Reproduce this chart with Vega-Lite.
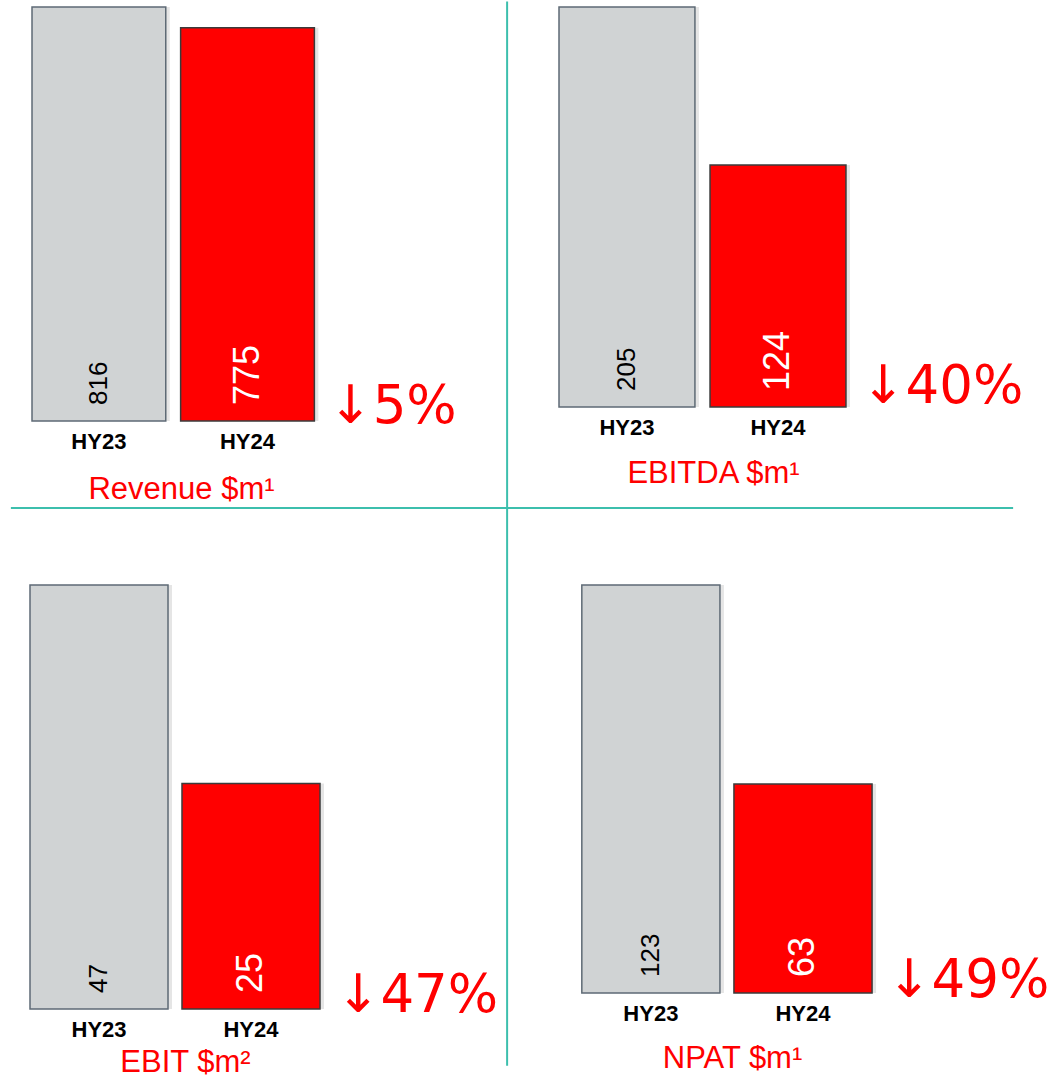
{
  "$schema": "https://vega.github.io/schema/vega-lite/v6.json",
  "padding": {"left": 9, "top": 0, "right": 5, "bottom": 5},
  "background": "white",
  "bounds": "flush",
  "columns": 2,
  "spacing": {"row": 164, "column": 87},
  "config": {
    "view": {"stroke": null},
    "font": "Liberation Sans",
    "axisX": {
      "labelFont": "Liberation Sans", "labelFontWeight": "bold", "labelFontSize": 22, "labelColor": "#000000",
      "labelAngle": 0, "ticks": false, "domain": false, "labelPadding": 10,
      "titleFont": "Liberation Sans", "titleFontWeight": "normal", "titleFontSize": 31, "titleColor": "#FF0000"
    }
  },
  "datasets": {
    "fin": [
      {"metric": "Revenue", "period": "HY23", "value": 816},
      {"metric": "Revenue", "period": "HY24", "value": 775},
      {"metric": "EBITDA", "period": "HY23", "value": 205},
      {"metric": "EBITDA", "period": "HY24", "value": 124},
      {"metric": "EBIT", "period": "HY23", "value": 47},
      {"metric": "EBIT", "period": "HY24", "value": 25},
      {"metric": "NPAT", "period": "HY23", "value": 123},
      {"metric": "NPAT", "period": "HY24", "value": 63}
    ],
    "changes": [
      {"metric": "Revenue", "period": "change", "change": "↓5%"},
      {"metric": "EBITDA", "period": "change", "change": "↓40%"},
      {"metric": "EBIT", "period": "change", "change": "↓47%"},
      {"metric": "NPAT", "period": "change", "change": "↓49%"}
    ]
  },
  "concat": [
    {
      "width": 435, "height": 414,
      "layer": [
        {
          "data": {"name": "fin"},
          "transform": [{"filter": "datum.metric === 'Revenue'"}],
          "mark": {"type": "bar", "fill": "#000000", "fillOpacity": 0.1, "xOffset": 4},
          "encoding": {
            "x": {"field": "period", "type": "nominal", "title": "Revenue  $m¹",
              "scale": {"domain": ["HY23", "HY24", "change"], "paddingInner": 0.1, "paddingOuter": 0.0135},
              "axis": {"labelExpr": "datum.value === 'change' ? '' : datum.value", "titleX": 151, "titlePadding": 22}},
            "y": {"field": "value", "type": "quantitative", "scale": {"domain": [0, 816], "nice": false}, "axis": null}
          }
        },
        {
          "data": {"name": "fin"},
          "transform": [{"filter": "datum.metric === 'Revenue'"}],
          "mark": {"type": "bar", "strokeWidth": 1.5},
          "encoding": {
            "x": {"field": "period", "type": "nominal"},
            "y": {"field": "value", "type": "quantitative"},
            "fill": {"condition": {"test": "datum.period === 'HY24'", "value": "#FF0000"}, "value": "#D0D3D4"},
            "stroke": {"condition": {"test": "datum.period === 'HY24'", "value": "#3B3B3B"}, "value": "#5E6A75"}
          }
        },
        {
          "data": {"name": "fin"},
          "transform": [{"filter": "datum.metric === 'Revenue'"}],
          "mark": {"type": "text", "angle": 270, "align": "left", "baseline": "middle", "dx": 16, "font": "Liberation Sans"},
          "encoding": {
            "x": {"field": "period", "type": "nominal"},
            "y": {"datum": 0, "type": "quantitative"},
            "text": {"field": "value", "type": "quantitative"},
            "color": {"condition": {"test": "datum.period === 'HY24'", "value": "#FFFFFF"}, "value": "#000000"},
            "size": {"condition": {"test": "datum.period === 'HY24'", "value": 36}, "value": 26}
          }
        },
        {
          "data": {"name": "changes"},
          "transform": [{"filter": "datum.metric === 'Revenue'"}],
          "mark": {"type": "text", "align": "left", "baseline": "alphabetic", "font": "DejaVu Sans", "fontSize": 53, "color": "#FF0000", "dx": -1, "dy": 2},
          "encoding": {
            "x": {"field": "period", "type": "nominal", "bandPosition": 0},
            "y": {"datum": 0, "type": "quantitative"},
            "text": {"field": "change", "type": "nominal"}
          }
        },
        {
          "data": {"values": [{}]},
          "mark": {"type": "rule", "color": "#3CBFAD", "strokeWidth": 2, "xOffset": 111},
          "encoding": {
            "x": {"datum": "change", "type": "nominal"},
            "y": {"datum": 827, "type": "quantitative"},
            "y2": {"datum": -1271}
          }
        },
        {
          "data": {"values": [{}]},
          "mark": {"type": "rule", "color": "#3CBFAD", "strokeWidth": 2, "xOffset": -88, "x2Offset": 617},
          "encoding": {
            "x": {"datum": "HY23", "type": "nominal"},
            "x2": {"datum": "change"},
            "y": {"datum": -171.5, "type": "quantitative"}
          }
        }
      ]
    },
    {
      "width": 438, "height": 400,
      "layer": [
        {
          "data": {"name": "fin"},
          "transform": [{"filter": "datum.metric === 'EBITDA'"}],
          "mark": {"type": "bar", "fill": "#000000", "fillOpacity": 0.1, "xOffset": 4},
          "encoding": {
            "x": {"field": "period", "type": "nominal", "title": "EBITDA $m¹",
              "scale": {"domain": ["HY23", "HY24", "change"], "paddingInner": 0.1, "paddingOuter": 0},
              "axis": {"labelExpr": "datum.value === 'change' ? '' : datum.value", "titleX": 154, "titlePadding": 20}},
            "y": {"field": "value", "type": "quantitative", "scale": {"domain": [0, 205], "nice": false}, "axis": null}
          }
        },
        {
          "data": {"name": "fin"},
          "transform": [{"filter": "datum.metric === 'EBITDA'"}],
          "mark": {"type": "bar", "strokeWidth": 1.5},
          "encoding": {
            "x": {"field": "period", "type": "nominal"},
            "y": {"field": "value", "type": "quantitative"},
            "fill": {"condition": {"test": "datum.period === 'HY24'", "value": "#FF0000"}, "value": "#D0D3D4"},
            "stroke": {"condition": {"test": "datum.period === 'HY24'", "value": "#3B3B3B"}, "value": "#5E6A75"}
          }
        },
        {
          "data": {"name": "fin"},
          "transform": [{"filter": "datum.metric === 'EBITDA'"}],
          "mark": {"type": "text", "angle": 270, "align": "left", "baseline": "middle", "dx": 16, "font": "Liberation Sans"},
          "encoding": {
            "x": {"field": "period", "type": "nominal"},
            "y": {"datum": 0, "type": "quantitative"},
            "text": {"field": "value", "type": "quantitative"},
            "color": {"condition": {"test": "datum.period === 'HY24'", "value": "#FFFFFF"}, "value": "#000000"},
            "size": {"condition": {"test": "datum.period === 'HY24'", "value": 36}, "value": 26}
          }
        },
        {
          "data": {"name": "changes"},
          "transform": [{"filter": "datum.metric === 'EBITDA'"}],
          "mark": {"type": "text", "align": "left", "baseline": "alphabetic", "font": "DejaVu Sans", "fontSize": 53, "color": "#FF0000", "dx": 0, "dy": -4},
          "encoding": {
            "x": {"field": "period", "type": "nominal", "bandPosition": 0},
            "y": {"datum": 0, "type": "quantitative"},
            "text": {"field": "change", "type": "nominal"}
          }
        }
      ]
    },
    {
      "width": 442, "height": 424,
      "layer": [
        {
          "data": {"name": "fin"},
          "transform": [{"filter": "datum.metric === 'EBIT'"}],
          "mark": {"type": "bar", "fill": "#000000", "fillOpacity": 0.1, "xOffset": 4},
          "encoding": {
            "x": {"field": "period", "type": "nominal", "title": "EBIT $m²",
              "scale": {"domain": ["HY23", "HY24", "change"], "paddingInner": 0.092, "paddingOuter": 0},
              "axis": {"labelExpr": "datum.value === 'change' ? '' : datum.value", "titleX": 155, "titlePadding": 7}},
            "y": {"field": "value", "type": "quantitative", "scale": {"domain": [0, 47], "nice": false}, "axis": null}
          }
        },
        {
          "data": {"name": "fin"},
          "transform": [{"filter": "datum.metric === 'EBIT'"}],
          "mark": {"type": "bar", "strokeWidth": 1.5},
          "encoding": {
            "x": {"field": "period", "type": "nominal"},
            "y": {"field": "value", "type": "quantitative"},
            "fill": {"condition": {"test": "datum.period === 'HY24'", "value": "#FF0000"}, "value": "#D0D3D4"},
            "stroke": {"condition": {"test": "datum.period === 'HY24'", "value": "#3B3B3B"}, "value": "#5E6A75"}
          }
        },
        {
          "data": {"name": "fin"},
          "transform": [{"filter": "datum.metric === 'EBIT'"}],
          "mark": {"type": "text", "angle": 270, "align": "left", "baseline": "middle", "dx": 16, "font": "Liberation Sans"},
          "encoding": {
            "x": {"field": "period", "type": "nominal"},
            "y": {"datum": 0, "type": "quantitative"},
            "text": {"field": "value", "type": "quantitative"},
            "color": {"condition": {"test": "datum.period === 'HY24'", "value": "#FFFFFF"}, "value": "#000000"},
            "size": {"condition": {"test": "datum.period === 'HY24'", "value": 36}, "value": 26}
          }
        },
        {
          "data": {"name": "changes"},
          "transform": [{"filter": "datum.metric === 'EBIT'"}],
          "mark": {"type": "text", "align": "left", "baseline": "alphabetic", "font": "DejaVu Sans", "fontSize": 53, "color": "#FF0000", "dx": 2, "dy": 3},
          "encoding": {
            "x": {"field": "period", "type": "nominal", "bandPosition": 0},
            "y": {"datum": 0, "type": "quantitative"},
            "text": {"field": "change", "type": "nominal"}
          }
        }
      ]
    },
    {
      "width": 488, "height": 408,
      "layer": [
        {
          "data": {"name": "fin"},
          "transform": [{"filter": "datum.metric === 'NPAT'"}],
          "mark": {"type": "bar", "fill": "#000000", "fillOpacity": 0.1, "xOffset": 4},
          "encoding": {
            "x": {"field": "period", "type": "nominal", "title": "NPAT $m¹",
              "scale": {"domain": ["HY23", "HY24", "change"], "paddingInner": 0.092, "paddingOuter": 0.15},
              "axis": {"labelExpr": "datum.value === 'change' ? '' : datum.value", "titleX": 173, "titlePadding": 19}},
            "y": {"field": "value", "type": "quantitative", "scale": {"domain": [0, 123], "nice": false}, "axis": null}
          }
        },
        {
          "data": {"name": "fin"},
          "transform": [{"filter": "datum.metric === 'NPAT'"}],
          "mark": {"type": "bar", "strokeWidth": 1.5},
          "encoding": {
            "x": {"field": "period", "type": "nominal"},
            "y": {"field": "value", "type": "quantitative"},
            "fill": {"condition": {"test": "datum.period === 'HY24'", "value": "#FF0000"}, "value": "#D0D3D4"},
            "stroke": {"condition": {"test": "datum.period === 'HY24'", "value": "#3B3B3B"}, "value": "#5E6A75"}
          }
        },
        {
          "data": {"name": "fin"},
          "transform": [{"filter": "datum.metric === 'NPAT'"}],
          "mark": {"type": "text", "angle": 270, "align": "left", "baseline": "middle", "dx": 16, "font": "Liberation Sans"},
          "encoding": {
            "x": {"field": "period", "type": "nominal"},
            "y": {"datum": 0, "type": "quantitative"},
            "text": {"field": "value", "type": "quantitative"},
            "color": {"condition": {"test": "datum.period === 'HY24'", "value": "#FFFFFF"}, "value": "#000000"},
            "size": {"condition": {"test": "datum.period === 'HY24'", "value": 36}, "value": 26}
          }
        },
        {
          "data": {"name": "changes"},
          "transform": [{"filter": "datum.metric === 'NPAT'"}],
          "mark": {"type": "text", "align": "left", "baseline": "alphabetic", "font": "DejaVu Sans", "fontSize": 53, "color": "#FF0000", "dx": 1, "dy": 4},
          "encoding": {
            "x": {"field": "period", "type": "nominal", "bandPosition": 0},
            "y": {"datum": 0, "type": "quantitative"},
            "text": {"field": "change", "type": "nominal"}
          }
        }
      ]
    }
  ]
}
